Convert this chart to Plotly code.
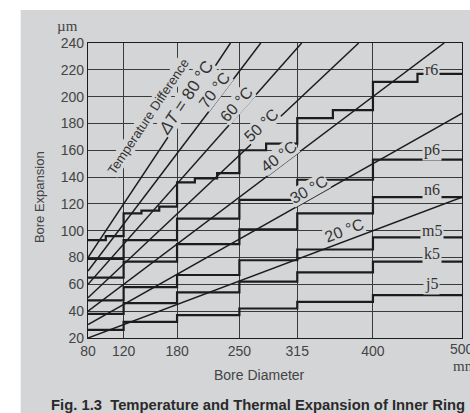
import plotly.graph_objects as go

# ---------------- data ----------------
x_ticks = [80, 120, 180, 250, 315, 400, 500]
y_ticks = [20, 40, 60, 80, 100, 120, 140, 160, 180, 200, 220, 240]

# fit classes: step edges (bore diameter, mm) and bore expansion values (µm)
r6_edges = [80, 100, 120, 140, 160, 180, 200, 225, 250, 280, 315, 355, 400, 450, 500]
r6_vals = [93, 96, 113, 115, 118, 136, 139, 143, 160, 165, 184, 190, 211, 217]
range_edges = [80, 120, 180, 250, 315, 400, 500]
p6_vals = [79, 93, 109, 123, 138, 153]
n6_vals = [65, 77, 90, 101, 113, 125]
m5_vals = [48, 58, 67, 78, 86, 95]
k5_vals = [38, 46, 54, 62, 69, 77]
j5_vals = [26, 32, 37, 42, 47, 52]

fit_names = ["r6", "p6", "n6", "m5", "k5", "j5"]
fit_label_vals = [220, 160, 131, 100, 83, 60]

# temperature-difference lines: start (d=80) and end points
temp_diffs = [20, 30, 40, 50, 60, 70, 80]
temp_start_vals = [20, 30, 40, 50, 60, 70, 80]
temp_end_d = [500, 500, 480, 384, 320, 274, 240]
temp_end_vals = [125, 187.5, 240, 240, 240, 240, 240]

# ---------------- styling ----------------
BG = "#d4d5d7"
GRID = "#3a3a3a"
INK = "#1c1c1c"
TXT = "#444444"

fig = go.Figure()


def step_xy(edges, vals):
    xs, ys = [], []
    for i, v in enumerate(vals):
        xs += [edges[i], edges[i + 1]]
        ys += [v, v]
    return xs, ys


# temperature lines
for t, y0, x1, y1 in zip(temp_diffs, temp_start_vals, temp_end_d, temp_end_vals):
    fig.add_trace(go.Scatter(x=[80, x1], y=[y0, y1], mode="lines",
                             line=dict(color=INK, width=1.5),
                             hoverinfo="skip", showlegend=False, name=f"{t} °C"))

# step lines
fits = [(r6_edges, r6_vals), (range_edges, p6_vals), (range_edges, n6_vals),
        (range_edges, m5_vals), (range_edges, k5_vals), (range_edges, j5_vals)]
for (edges, vals), nm in zip(fits, fit_names):
    xs, ys = step_xy(edges, vals)
    fig.add_trace(go.Scatter(x=xs, y=ys, mode="lines",
                             line=dict(color=INK, width=2.2),
                             hoverinfo="skip", showlegend=False, name=nm))

# gray panel
fig.add_shape(type="rect", xref="paper", yref="paper",
              x0=-0.18, x1=1.03, y0=-0.26, y1=1.112,
              fillcolor=BG, line=dict(width=0), layer="below")

# fit labels
for nm, v in zip(fit_names, fit_label_vals):
    fig.add_annotation(x=466, y=v, xref="x", yref="y", text=nm, showarrow=False,
                       font=dict(family="Liberation Serif, serif", size=16, color="#333"),
                       bgcolor=BG, borderpad=1)

# temperature labels
temp_labels = ["Temperature Difference", "<i>ΔT</i> = 80 °C", "70 °C", "60 °C",
               "50 °C", "40 °C", "30 °C", "20 °C"]
temp_label_x = [147.4, 190, 221.5, 246.2, 274.3, 294.5, 328.2, 367.5]
temp_label_y = [185.5, 199.7, 204.9, 194.5, 178.8, 155, 130.4, 100.5]
temp_label_ang = [-56.4, -56.4, -52.8, -48.5, -43.3, -37, -29.5, -20.6]
temp_label_size = [13, 17, 16, 16, 16, 16, 16, 16]
for t, x, y, a, s in zip(temp_labels, temp_label_x, temp_label_y, temp_label_ang, temp_label_size):
    fig.add_annotation(x=x, y=y, xref="x", yref="y", text=t, showarrow=False,
                       textangle=a, font=dict(family="Liberation Sans, Arial", size=s, color="#333"),
                       bgcolor=BG, borderpad=0)

# axis titles & units
def paper_text(x, y, text, size, family="Liberation Sans, Arial", color=TXT, angle=0,
               xanchor="center", xref="paper"):
    fig.add_annotation(x=x, y=y, xref=xref, yref="paper", text=text, textangle=angle,
                       showarrow=False, xanchor=xanchor, yanchor="middle",
                       font=dict(family=family, size=size, color=color))


paper_text(-0.128, 0.478, "Bore Expansion", 13, angle=-90)
paper_text(0.4586, -0.1254, "Bore Diameter", 14)
paper_text(-0.0535, 1.0576, "µm", 15, family="Liberation Serif, serif")
paper_text(0.97, -0.0949, "mm", 15, family="Liberation Serif, serif", xanchor="left")
# last tick label (plotly drops it because it overflows the page edge)
paper_text(x_ticks[-1], -0.037, str(x_ticks[-1]), 14, xref="x")
paper_text(0.4545, -0.227, "<b>Fig. 1.3  Temperature and Thermal Expansion of Inner Ring</b>",
           14.8, color="#2a2a2a")

fig.update_xaxes(range=[80, 500], tickvals=x_ticks[:-1], ticktext=[str(v) for v in x_ticks[:-1]],
                 showgrid=True, gridcolor=GRID, gridwidth=1,
                 showline=True, linecolor=INK, linewidth=1.3, mirror=True,
                 ticks="", zeroline=False,
                 tickfont=dict(family="Liberation Sans, Arial", size=14, color=TXT))
fig.update_yaxes(range=[20, 240], tickvals=y_ticks,
                 showgrid=True, gridcolor=GRID, gridwidth=1,
                 showline=True, linecolor=INK, linewidth=1.3, mirror=True,
                 ticks="", zeroline=False,
                 tickfont=dict(family="Liberation Sans, Arial", size=14, color=TXT))

fig.update_layout(width=470, height=413,
                  margin=dict(l=88, r=8, t=43, b=75),
                  paper_bgcolor="white", plot_bgcolor="rgba(0,0,0,0)",
                  showlegend=False)

fig.write_html("out.html", post_script="document.body.style.margin='0';",
               config={"displayModeBar": False})
